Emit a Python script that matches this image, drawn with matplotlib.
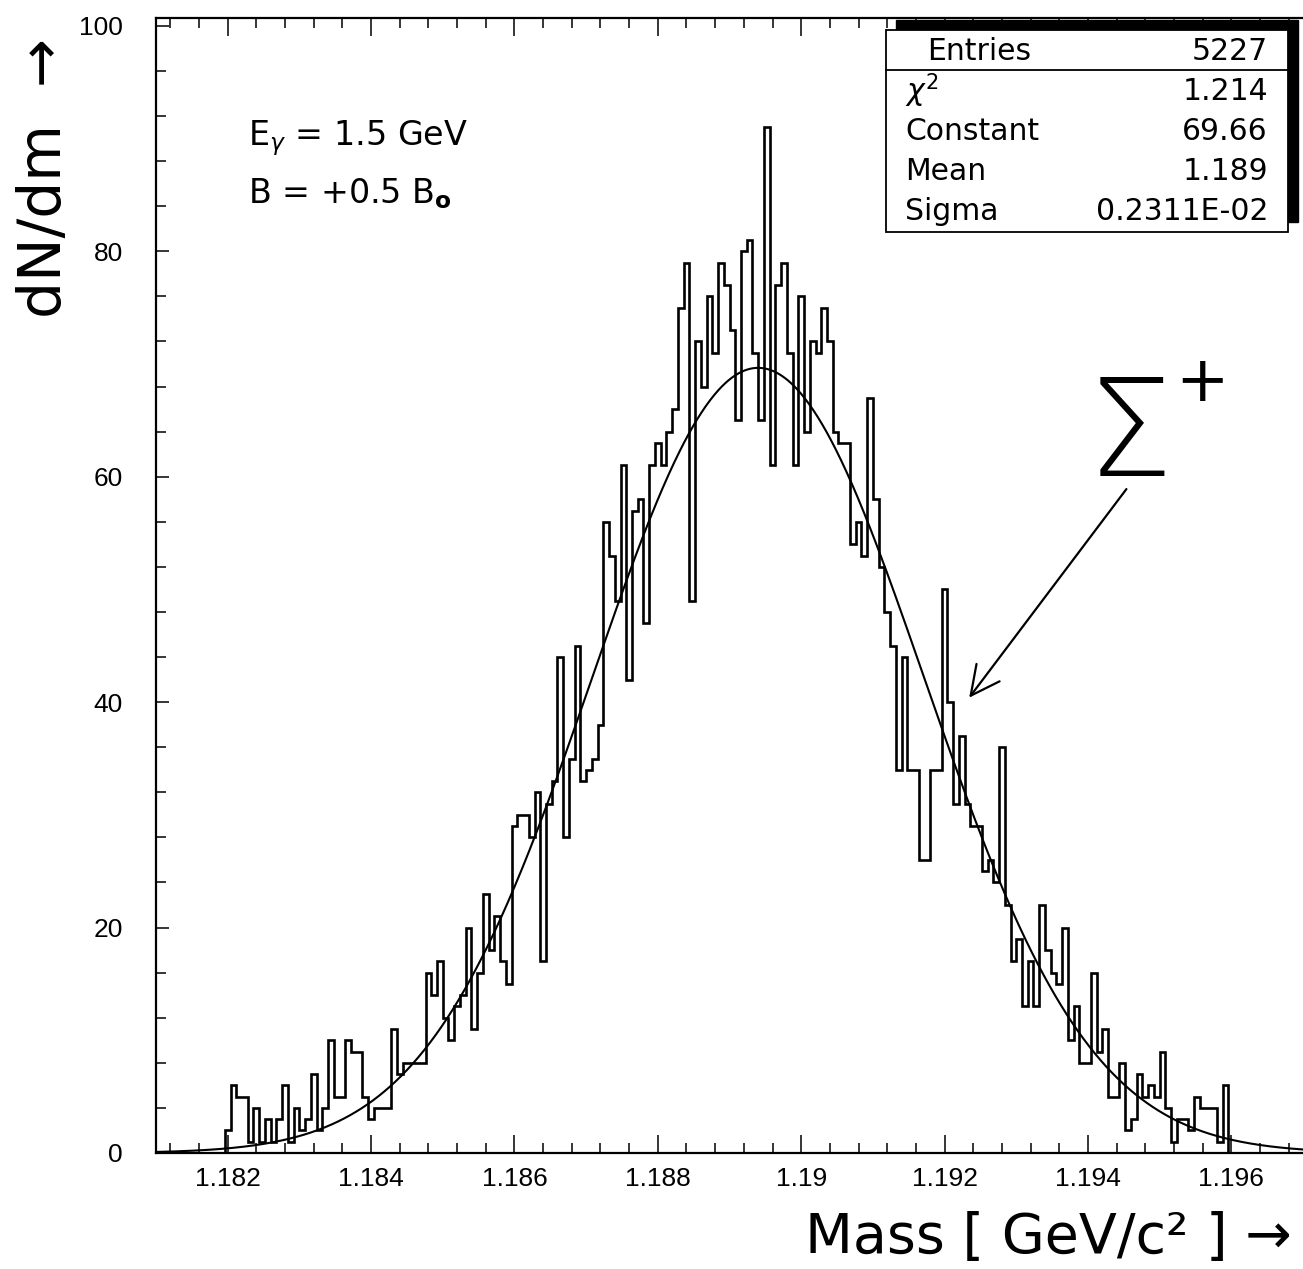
import numpy as np
import matplotlib.pyplot as plt
from matplotlib.patches import Rectangle
from matplotlib.ticker import MultipleLocator, FuncFormatter

# Sigma+ invariant mass spectrum, 200 bins between 1.181 and 1.197 GeV
x_min, x_max, n_bins = 1.181, 1.197, 200
counts = [0] * 12 + [
    2, 6, 5, 5, 1, 4, 1, 3, 1, 3,           # 12-21
    6, 1, 4, 2, 3, 7, 2, 4, 10, 5,          # 22-31
    5, 10, 9, 9, 5, 3, 4, 4, 4, 11,         # 32-41
    7, 8, 8, 8, 8, 16, 14, 17, 12, 10,      # 42-51
    13, 14, 20, 11, 16, 23, 18, 21, 17, 15, # 52-61
    29, 30, 30, 28, 32, 17, 31, 33, 44, 28, # 62-71
    35, 45, 33, 34, 35, 38, 56, 53, 49, 61, # 72-81
    42, 57, 58, 47, 61, 63, 61, 64, 66, 75, # 82-91
    79, 49, 72, 68, 76, 71, 79, 77, 73, 65, # 92-101
    80, 81, 71, 65, 91, 61, 77, 79, 71, 61, # 102-111
    76, 64, 72, 71, 75, 72, 64, 63, 63, 54, # 112-121
    56, 53, 67, 58, 52, 48, 45, 34, 44, 34, # 122-131
    34, 26, 26, 34, 34, 50, 40, 31, 37, 31, # 132-141
    29, 29, 25, 26, 24, 36, 22, 17, 19, 13, # 142-151
    17, 13, 22, 18, 16, 15, 20, 10, 13, 8,  # 152-161
    8, 16, 9, 11, 5, 5, 8, 2, 3, 7,         # 162-171
    5, 6, 5, 9, 4, 1, 3, 3, 2, 5,           # 172-181
    4, 4, 4, 1, 6,                          # 182-186
] + [0] * 13

# gaussian fit parameters
entries = 5227
chi2 = 1.214
fit_const = 69.66
fit_mean = 1.1894
fit_sigma = 0.2311e-02

stat_labels = ['Entries', r'$\chi^2$', 'Constant', 'Mean', 'Sigma']
stat_values = ['5227', '1.214', '69.66', '1.189', '0.2311E-02']


def gauss(x, c, m, s):
    return c * np.exp(-0.5 * ((x - m) / s) ** 2)


W, H = 1303, 1269
fig = plt.figure(figsize=(W / 100, H / 100), dpi=100)
ax = fig.add_axes([156 / W, 1 - 1153 / H, (W - 156) / W, (1153 - 18) / H])

edges = np.linspace(x_min, x_max, n_bins + 1)
ax.stairs(counts, edges, color='black', lw=1.9)

xf = np.linspace(x_min, x_max, 800)
ax.plot(xf, gauss(xf, fit_const, fit_mean, fit_sigma), color='black', lw=1.5)

ax.set_xlim(x_min, x_max)
ax.set_ylim(0, 100.7)

ax.xaxis.set_major_locator(MultipleLocator(0.002))
ax.xaxis.set_minor_locator(MultipleLocator(0.0004))
ax.yaxis.set_major_locator(MultipleLocator(20))
ax.yaxis.set_minor_locator(MultipleLocator(4))
ax.xaxis.set_major_formatter(FuncFormatter(lambda v, p: f'{v:.3f}'.rstrip('0')))

ax.tick_params(axis='x', which='major', direction='in', length=13, width=1.1,
               pad=10, labelsize=19, top=True)
ax.tick_params(axis='x', which='minor', direction='in', length=7, width=1.1, top=True)
ax.tick_params(axis='y', which='major', direction='in', length=9, width=1.1,
               pad=24, labelsize=19)
ax.tick_params(axis='y', which='minor', direction='in', length=7.5, width=1.1)
for lab in ax.get_xticklabels() + ax.get_yticklabels():
    lab.set_family('Liberation Sans')
for side in ['left', 'bottom', 'top']:
    ax.spines[side].set_linewidth(1.6)
ax.spines['right'].set_visible(False)

# beam energy and field settings
ax.text(1.18229, 89.4, r'E$_\gamma$ = 1.5 GeV', fontsize=24, va='baseline')
ax.text(1.18229, 84.3, r'B = +0.5 B$_\mathbf{o}$', fontsize=24, va='baseline')

# particle label with arrow to the peak
ax.text(1.19458, 63.4, '\u03a3', fontsize=98, fontweight='light',
        ha='center', va='center')
ax.text(1.19559, 68.3, '+', fontsize=46, ha='center', va='center')
ax.annotate('', xy=(1.19232, 40.2), xytext=(1.19456, 59.1),
            arrowprops=dict(arrowstyle='->', lw=1.6, color='black',
                            mutation_scale=52))

# axis titles with arrows
fig.text(45 / W, 1 - 318 / H, 'dN/dm  \u2192', fontsize=42, rotation=90,
         rotation_mode='anchor', ha='left', va='center')
fig.text(1292 / W, 1 - 1238 / H, 'Mass [ GeV/c\u00b2 ] \u2192', fontsize=40,
         ha='right', va='center')

# statistics box with shadow
def px_rect(x0, y0, x1, y1, **kw):
    return Rectangle((x0 / W, 1 - y1 / H), (x1 - x0) / W, (y1 - y0) / H,
                     transform=fig.transFigure, **kw)

fig.patches.append(px_rect(896, 20, 1298, 222, facecolor='black', edgecolor='black'))
fig.patches.append(px_rect(886, 30, 1288, 232, facecolor='white', edgecolor='black', lw=1.3))
fig.add_artist(plt.Line2D([886 / W, 1288 / W], [1 - 70 / H, 1 - 70 / H],
                          transform=fig.transFigure, color='black', lw=1.3))

row_y = [51, 91, 131, 172, 212]
for i, (lab, val) in enumerate(zip(stat_labels, stat_values)):
    lx = 927 if i == 0 else 905
    fig.text(lx / W, 1 - row_y[i] / H, lab, fontsize=21.5, ha='left', va='center')
    fig.text(1268 / W, 1 - row_y[i] / H, val, fontsize=21.5, ha='right', va='center')

fig.savefig('out.png', dpi=100)
